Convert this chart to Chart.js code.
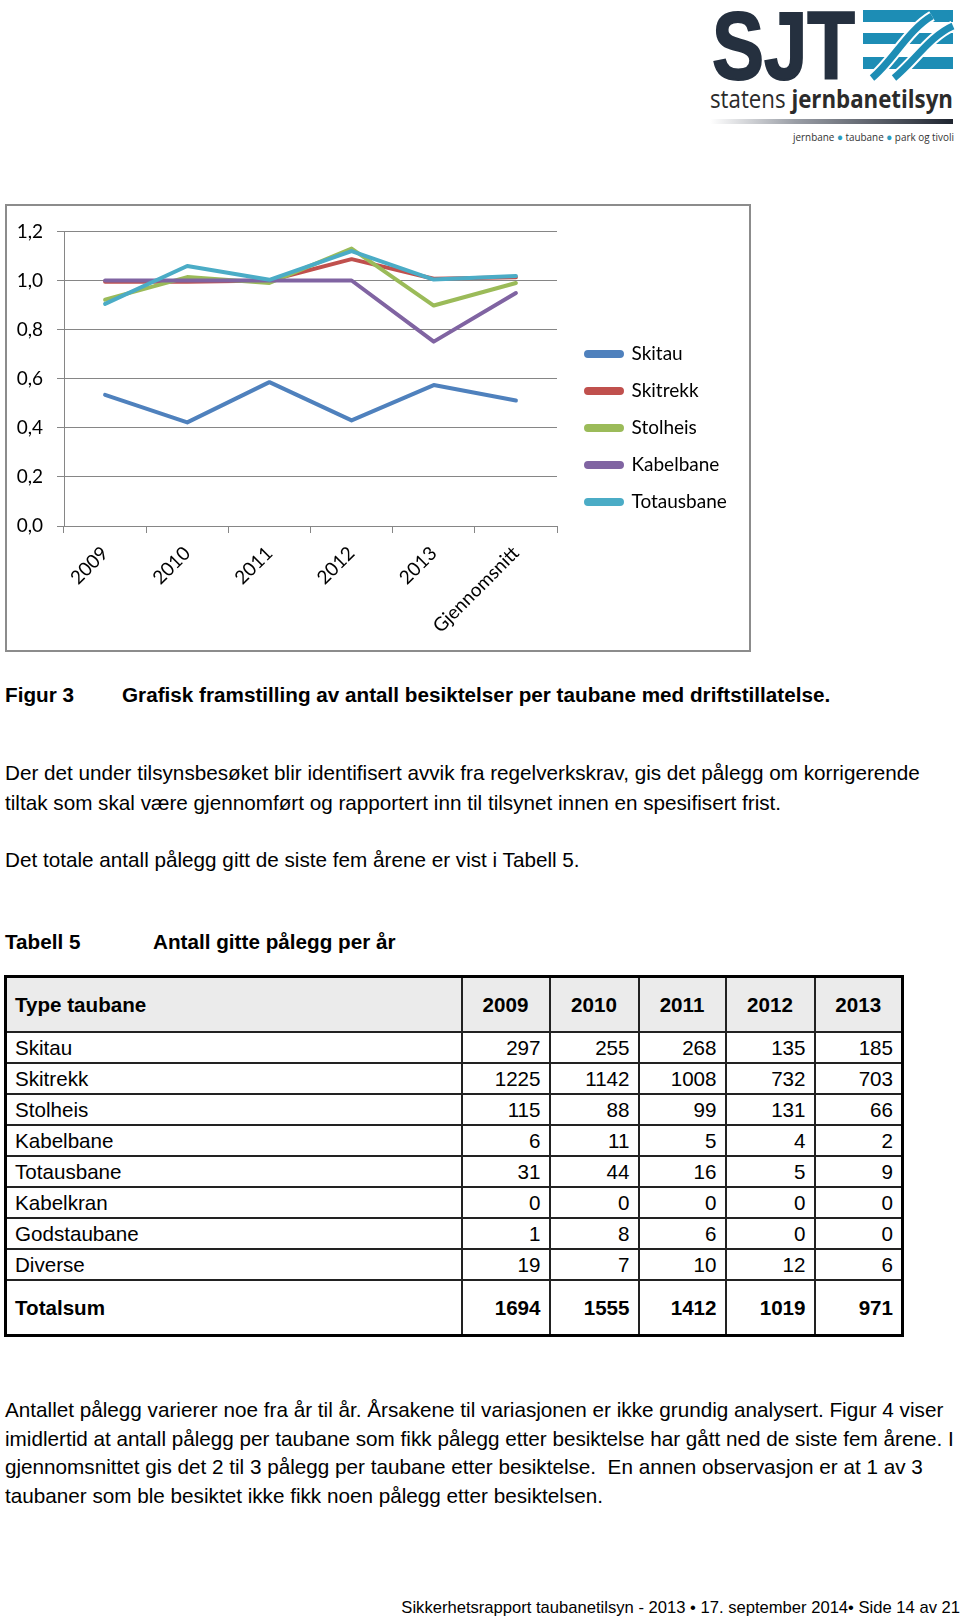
<!DOCTYPE html>
<html lang="no">
<head>
<meta charset="utf-8">
<title>Figur 3 – besiktelser per taubane</title>
<script src="https://cdn.jsdelivr.net/npm/chart.js@4.4.1/dist/chart.umd.min.js"></script>
<style>
  html, body { margin: 0; padding: 0; background: #fff; }
  body { width: 960px; height: 1620px; position: relative; overflow: hidden;
         font-family: "Liberation Sans", Arial, sans-serif; color: #000; }
  .ln { position: absolute; white-space: nowrap; height: 30px; line-height: 30px; font-size: 20.7px; }
  .b { font-weight: bold; font-size: 20.7px; }
  #logo { position: absolute; left: 700px; top: 0; }
  #chartBox { position: absolute; left: 5px; top: 204px; width: 746px; height: 448px;
              border: 2px solid #8c8c8c; box-sizing: border-box; background: #fff; }
  #chartBox canvas { position: absolute; left: 0; top: 0; }
  #tbl { position: absolute; left: 4px; top: 975px; width: 897px; border-collapse: collapse;
         table-layout: fixed; border: 3px solid #000; font-size: 20.6px; }
  #tbl th, #tbl td { border: 2px solid #222; padding: 0 8px; white-space: nowrap; }
  #tbl th { background: #ebebeb; font-weight: bold; text-align: center; height: 53px; }
  #tbl th:first-child { text-align: left; }
  #tbl td { height: 29px; text-align: right; }
  #tbl td:first-child { text-align: left; }
  #tbl tr.sum td { font-weight: bold; height: 53px; }
  .foot { position: absolute; right: 0; top: 1596px; font-size: 16.6px; white-space: nowrap; line-height: 24px; }
</style>
</head>
<body>

<svg id="logo" width="260" height="150" viewBox="700 0 260 150">
  <defs>
    <linearGradient id="bar" x1="0" x2="1" y1="0" y2="0">
      <stop offset="0" stop-color="#ffffff"/>
      <stop offset="0.35" stop-color="#9a9ea6"/>
      <stop offset="1" stop-color="#1f2530"/>
    </linearGradient>
  </defs>
  <text x="712" y="79" font-family="Liberation Sans" font-weight="bold" font-size="96"
        textLength="143" lengthAdjust="spacingAndGlyphs" fill="#25303f" stroke="#25303f" stroke-width="2">SJT</text>
  <rect x="863" y="10" width="90" height="12" fill="#1d8db5"/>
  <rect x="863" y="33" width="90" height="11" fill="#1d8db5"/>
  <rect x="863" y="57" width="90" height="12" fill="#1d8db5"/>
  <path d="M872 78 C 892 62, 908 30, 932 16" fill="none" stroke="#fff" stroke-width="11"/>
  <path d="M872 78 C 892 62, 908 30, 932 16" fill="none" stroke="#1d8db5" stroke-width="7"/>
  <path d="M894 78 C 914 62, 930 36, 953 26" fill="none" stroke="#fff" stroke-width="11"/>
  <path d="M894 78 C 914 62, 930 36, 953 26" fill="none" stroke="#1d8db5" stroke-width="7"/>
  <text x="710" y="108" font-family="Open Sans" font-size="25" textLength="243"
        lengthAdjust="spacingAndGlyphs" fill="#2b2b2b">statens <tspan font-weight="bold">jernbanetilsyn</tspan></text>
  <rect x="710" y="119" width="243" height="5" fill="url(#bar)"/>
  <text x="793" y="141" font-family="Open Sans" font-size="11" textLength="161"
        lengthAdjust="spacingAndGlyphs" fill="#333">jernbane <tspan fill="#2a9dc0">●</tspan> taubane <tspan fill="#2a9dc0">●</tspan> park og tivoli</text>
</svg>

<div id="chartBox"><canvas id="chart" width="742" height="444"></canvas></div>

<div class="ln b" style="left:5px; top:680px;">Figur 3</div>
<div class="ln b" style="left:122px; top:680px;">Grafisk framstilling av antall besiktelser per taubane med driftstillatelse.</div>

<div class="ln" style="left:5px; top:758px;">Der det under tilsynsbesøket blir identifisert avvik fra regelverkskrav, gis det pålegg om korrigerende</div>
<div class="ln" style="left:5px; top:788px;">tiltak som skal være gjennomført og rapportert inn til tilsynet innen en spesifisert frist.</div>
<div class="ln" style="left:5px; top:845px;">Det totale antall pålegg gitt de siste fem årene er vist i Tabell 5.</div>

<div class="ln b" style="left:5px; top:927px;">Tabell 5</div>
<div class="ln b" style="left:153px; top:927px;">Antall gitte pålegg per år</div>

<table id="tbl">
  <colgroup><col style="width:456px"><col style="width:88px"><col style="width:89px"><col style="width:87px"><col style="width:89px"><col style="width:88px"></colgroup>
  <thead><tr id="tblHead"></tr></thead>
  <tbody id="tblBody"></tbody>
</table>

<div class="ln" style="left:5px; top:1395px;">Antallet pålegg varierer noe fra år til år. Årsakene til variasjonen er ikke grundig analysert. Figur 4 viser</div>
<div class="ln" style="left:5px; top:1424px;">imidlertid at antall pålegg per taubane som fikk pålegg etter besiktelse har gått ned de siste fem årene. I</div>
<div class="ln" style="left:5px; top:1452px;">gjennomsnittet gis det 2 til 3 pålegg per taubane etter besiktelse.&nbsp; En annen observasjon er at 1 av 3</div>
<div class="ln" style="left:5px; top:1481px;">taubaner som ble besiktet ikke fikk noen pålegg etter besiktelsen.</div>

<div class="foot">Sikkerhetsrapport taubanetilsyn - 2013 • 17. september 2014• Side 14 av 21</div>

<script>
// Figur 3: besiktelser per taubane med driftstillatelse
const categories = ['2009', '2010', '2011', '2012', '2013', 'Gjennomsnitt'];
const seriesNames = ['Skitau', 'Skitrekk', 'Stolheis', 'Kabelbane', 'Totausbane'];
const skitau     = [0.534, 0.422, 0.586, 0.430, 0.574, 0.511];
const skitrekk   = [0.995, 0.995, 1.000, 1.087, 1.007, 1.013];
const stolheis   = [0.922, 1.014, 0.990, 1.130, 0.898, 0.990];
const kabelbane  = [1.000, 1.000, 1.000, 1.000, 0.751, 0.949];
const totausbane = [0.905, 1.059, 1.003, 1.120, 1.004, 1.018];
const yTickLabels = ['0,0', '0,2', '0,4', '0,6', '0,8', '1,0', '1,2'];

// Tabell 5: antall gitte pålegg per år
const tableYears = ['2009', '2010', '2011', '2012', '2013'];
const tableTypes = ['Skitau', 'Skitrekk', 'Stolheis', 'Kabelbane', 'Totausbane', 'Kabelkran', 'Godstaubane', 'Diverse'];
const tableValues = [
  [297, 255, 268, 135, 185],
  [1225, 1142, 1008, 732, 703],
  [115, 88, 99, 131, 66],
  [6, 11, 5, 4, 2],
  [31, 44, 16, 5, 9],
  [0, 0, 0, 0, 0],
  [1, 8, 6, 0, 0],
  [19, 7, 10, 12, 6]
];
const tableTotals = [1694, 1555, 1412, 1019, 971];

const colors = ['#4f81bd', '#c0504d', '#9bbb59', '#8064a2', '#4bacc6'];
const seriesValues = [skitau, skitrekk, stolheis, kabelbane, totausbane];

// tabell
function buildTable() {
  const head = document.getElementById('tblHead');
  head.innerHTML = '<th>Type taubane</th>' + tableYears.map(y => '<th>' + y + '</th>').join('');
  const body = document.getElementById('tblBody');
  let html = '';
  tableTypes.forEach((t, i) => {
    html += '<tr><td>' + t + '</td>' + tableValues[i].map(v => '<td>' + v + '</td>').join('') + '</tr>';
  });
  html += '<tr class="sum"><td>Totalsum</td>' + tableTotals.map(v => '<td>' + v + '</td>').join('') + '</tr>';
  body.innerHTML = html;
}

// flytter legenden litt, slik som i Excel-figuren
const legendNudge = {
  id: 'legendNudge',
  afterLayout(chart) {
    const l = chart.legend;
    l.left += 11;
    l.right = chart.width;
    l.width = l.right - l.left;
    l.top -= 11; l.bottom -= 11;
  }
};

function renderChart() {
  const ctx = document.getElementById('chart').getContext('2d');
  const font = { family: 'Lato', size: 19 };
  new Chart(ctx, {
    type: 'line',
    data: {
      labels: categories,
      datasets: seriesNames.map((name, i) => ({
        label: name,
        data: seriesValues[i],
        borderColor: colors[i],
        backgroundColor: colors[i],
        borderWidth: 4,
        pointRadius: 0,
        tension: 0,
        borderCapStyle: 'round',
        borderJoinStyle: 'round',
        order: seriesNames.length - i
      }))
    },
    options: {
      responsive: false,
      animation: false,
      devicePixelRatio: 1,
      layout: { padding: { top: 22, right: 42, bottom: 0, left: 0 } },
      plugins: {
        legend: {
          position: 'right',
          maxWidth: 150,
          labels: {
            font, color: '#000',
            boxWidth: 36, boxHeight: 4, padding: 18,
            useBorderRadius: true, borderRadius: 2,
            sort: (a, b) => a.datasetIndex - b.datasetIndex
          }
        },
        tooltip: { enabled: false }
      },
      scales: {
        x: {
          offset: true,
          grid: { offset: true, drawOnChartArea: false, color: '#868686', tickLength: 7 },
          border: { color: '#868686' },
          ticks: { font, color: '#000', minRotation: 45, maxRotation: 45, padding: 9 },
          afterFit(s) { s.height = 124; }
        },
        y: {
          min: 0, max: 1.2,
          ticks: { stepSize: 0.2, font, color: '#000', padding: 14,
                   callback: (v, i) => yTickLabels[i] },
          grid: { color: '#868686', tickLength: 7 },
          border: { color: '#868686' },
          afterFit(s) { s.width = 57; }
        }
      }
    },
    plugins: [legendNudge]
  });
}

buildTable();
renderChart();
</script>
</body>
</html>
